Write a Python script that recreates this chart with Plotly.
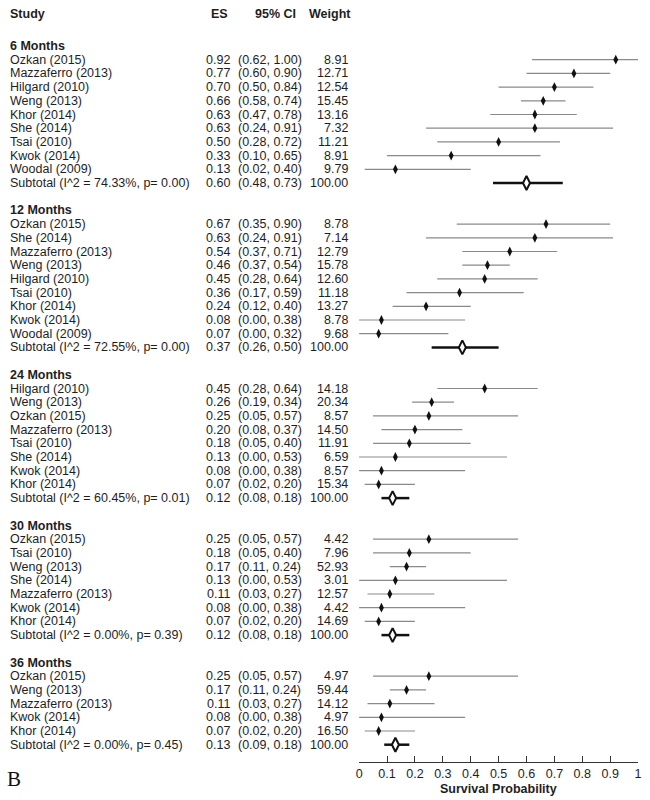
import plotly.graph_objects as go

# ---------------- data ----------------
group_labels = ["6 Months", "12 Months", "24 Months", "30 Months", "36 Months"]

studies_6 = ["Ozkan (2015)", "Mazzaferro (2013)", "Hilgard (2010)", "Weng (2013)", "Khor (2014)",
             "She (2014)", "Tsai (2010)", "Kwok (2014)", "Woodal (2009)"]
es_6 = [0.92, 0.77, 0.70, 0.66, 0.63, 0.63, 0.50, 0.33, 0.13]
lo_6 = [0.62, 0.60, 0.50, 0.58, 0.47, 0.24, 0.28, 0.10, 0.02]
hi_6 = [1.00, 0.90, 0.84, 0.74, 0.78, 0.91, 0.72, 0.65, 0.40]
wt_6 = [8.91, 12.71, 12.54, 15.45, 13.16, 7.32, 11.21, 8.91, 9.79]

studies_12 = ["Ozkan (2015)", "She (2014)", "Mazzaferro (2013)", "Weng (2013)", "Hilgard (2010)",
              "Tsai (2010)", "Khor (2014)", "Kwok (2014)", "Woodal (2009)"]
es_12 = [0.67, 0.63, 0.54, 0.46, 0.45, 0.36, 0.24, 0.08, 0.07]
lo_12 = [0.35, 0.24, 0.37, 0.37, 0.28, 0.17, 0.12, 0.00, 0.00]
hi_12 = [0.90, 0.91, 0.71, 0.54, 0.64, 0.59, 0.40, 0.38, 0.32]
wt_12 = [8.78, 7.14, 12.79, 15.78, 12.60, 11.18, 13.27, 8.78, 9.68]

studies_24 = ["Hilgard (2010)", "Weng (2013)", "Ozkan (2015)", "Mazzaferro (2013)", "Tsai (2010)",
              "She (2014)", "Kwok (2014)", "Khor (2014)"]
es_24 = [0.45, 0.26, 0.25, 0.20, 0.18, 0.13, 0.08, 0.07]
lo_24 = [0.28, 0.19, 0.05, 0.08, 0.05, 0.00, 0.00, 0.02]
hi_24 = [0.64, 0.34, 0.57, 0.37, 0.40, 0.53, 0.38, 0.20]
wt_24 = [14.18, 20.34, 8.57, 14.50, 11.91, 6.59, 8.57, 15.34]

studies_30 = ["Ozkan (2015)", "Tsai (2010)", "Weng (2013)", "She (2014)", "Mazzaferro (2013)",
              "Kwok (2014)", "Khor (2014)"]
es_30 = [0.25, 0.18, 0.17, 0.13, 0.11, 0.08, 0.07]
lo_30 = [0.05, 0.05, 0.11, 0.00, 0.03, 0.00, 0.02]
hi_30 = [0.57, 0.40, 0.24, 0.53, 0.27, 0.38, 0.20]
wt_30 = [4.42, 7.96, 52.93, 3.01, 12.57, 4.42, 14.69]

studies_36 = ["Ozkan (2015)", "Weng (2013)", "Mazzaferro (2013)", "Kwok (2014)", "Khor (2014)"]
es_36 = [0.25, 0.17, 0.11, 0.08, 0.07]
lo_36 = [0.05, 0.11, 0.03, 0.00, 0.02]
hi_36 = [0.57, 0.24, 0.27, 0.38, 0.20]
wt_36 = [4.97, 59.44, 14.12, 4.97, 16.50]

sub_i2 = [74.33, 72.55, 60.45, 0.00, 0.00]
sub_p = [0.00, 0.00, 0.01, 0.39, 0.45]
sub_es = [0.60, 0.37, 0.12, 0.12, 0.13]
sub_lo = [0.48, 0.26, 0.08, 0.08, 0.09]
sub_hi = [0.73, 0.50, 0.18, 0.18, 0.18]

x_ticks = [0, 0.1, 0.2, 0.3, 0.4, 0.5, 0.6, 0.7, 0.8, 0.9, 1]
x_tick_labels = ["0", "0.1", "0.2", "0.3", "0.4", "0.5", "0.6", "0.7", "0.8", "0.9", "1"]
x_title = "Survival Probability"
col_headers = ["Study", "ES", "95% CI", "Weight"]

groups = [
    (studies_6, es_6, lo_6, hi_6, wt_6),
    (studies_12, es_12, lo_12, hi_12, wt_12),
    (studies_24, es_24, lo_24, hi_24, wt_24),
    (studies_30, es_30, lo_30, hi_30, wt_30),
    (studies_36, es_36, lo_36, hi_36, wt_36),
]

# ---------------- layout geometry ----------------
W, H = 650, 800
AX_L, AX_R = 360, 642          # pixel x of 0 and 1
PLOT_BOTTOM = 762              # axis line pixel
ROW0_PX, ROW_H = 46, 13.7      # pixel of row k=0, row height
y_top = -ROW0_PX / ROW_H
y_bot = (PLOT_BOTTOM - ROW0_PX) / ROW_H

def px_x(px):
    return px / W

def row_of_px(py):
    return (py - ROW0_PX) / ROW_H

def paper_y(py):
    return 1 - py / PLOT_BOTTOM

FONT = "Liberation Sans, Arial, Helvetica, sans-serif"
FS = 12.5
TXT = "#1e1e1e"

annotations = []

def add_text(text, px, row, anchor="left", bold=False, size=FS, family=FONT, color=TXT):
    annotations.append(dict(
        text=f"<b>{text}</b>" if bold else text,
        x=px_x(px), xref="paper", y=row, yref="y",
        xanchor=anchor, yanchor="middle", showarrow=False,
        font=dict(family=family, size=size, color=color),
    ))

# column headers
hdr_row = row_of_px(14)
add_text(col_headers[0], 5, hdr_row, "left", bold=True)
add_text(col_headers[1], 219, hdr_row, "center", bold=True)
add_text(col_headers[2], 275, hdr_row, "center", bold=True)
add_text(col_headers[3], 354, hdr_row, "right", bold=True)

line_x, line_y = [], []
pt_x, pt_y = [], []
sub_line_x, sub_line_y = [], []
sub_x, sub_y = [], []

k = 0
for gi, (names, es, lo, hi, wt) in enumerate(groups):
    add_text(group_labels[gi], 5, k, "left", bold=True)
    for i, name in enumerate(names):
        r = k + 1 + i
        add_text(name, 5, r, "left")
        add_text(f"{es[i]:.2f}", 231, r, "right")
        add_text(f"({lo[i]:.2f}, {hi[i]:.2f})", 236, r, "left")
        add_text(f"{wt[i]:.2f}", 351, r, "right")
        line_x += [lo[i], hi[i], None]
        line_y += [r, r, None]
        pt_x.append(es[i])
        pt_y.append(r)
    r = k + 1 + len(names)
    add_text(f"Subtotal (I^2 = {sub_i2[gi]:.2f}%, p= {sub_p[gi]:.2f})", 5, r, "left")
    add_text(f"{sub_es[gi]:.2f}", 231, r, "right")
    add_text(f"({sub_lo[gi]:.2f}, {sub_hi[gi]:.2f})", 236, r, "left")
    add_text(f"{100:.2f}", 351, r, "right")
    sub_line_x += [sub_lo[gi], sub_hi[gi], None]
    sub_line_y += [r, r, None]
    sub_x.append(sub_es[gi])
    sub_y.append(r)
    k = r + 2

# axis title and panel label
annotations.append(dict(
    text=f"<b>{x_title}</b>", x=px_x((AX_L + AX_R) / 2), xref="paper",
    y=paper_y(789), yref="paper", xanchor="center", yanchor="middle",
    showarrow=False, font=dict(family=FONT, size=12.5, color=TXT)))
annotations.append(dict(
    text="B", x=px_x(2), xref="paper", y=paper_y(779), yref="paper",
    xanchor="left", yanchor="middle", showarrow=False,
    font=dict(family="Liberation Serif, Times New Roman, serif", size=21, color="#111")))

fig = go.Figure()
fig.add_trace(go.Scatter(x=line_x, y=line_y, mode="lines",
                         line=dict(color="#8a8a8a", width=1.2), hoverinfo="skip",
                         cliponaxis=False))
fig.add_trace(go.Scatter(x=pt_x, y=pt_y, mode="markers",
                         marker=dict(symbol="diamond-tall", size=7, color="#111111",
                                     line=dict(width=0)), cliponaxis=False))
fig.add_trace(go.Scatter(x=sub_line_x, y=sub_line_y, mode="lines",
                         line=dict(color="#111111", width=2.5), hoverinfo="skip",
                         cliponaxis=False))
fig.add_trace(go.Scatter(x=sub_x, y=sub_y, mode="markers",
                         marker=dict(symbol="diamond-tall", size=10, color="white",
                                     line=dict(color="#111111", width=2)), cliponaxis=False))

fig.update_layout(
    width=W, height=H,
    margin=dict(l=0, r=0, t=0, b=H - PLOT_BOTTOM),
    paper_bgcolor="white", plot_bgcolor="white",
    showlegend=False,
    annotations=annotations,
    xaxis=dict(domain=[AX_L / W, AX_R / W], range=[0, 1],
               tickvals=x_ticks, ticktext=x_tick_labels,
               ticks="inside", ticklen=6, tickwidth=1, tickcolor="#333",
               showline=True, linecolor="#333", linewidth=1,
               showgrid=False, zeroline=False,
               tickfont=dict(family=FONT, size=12.5, color=TXT)),
    yaxis=dict(range=[y_bot, y_top], visible=False, showgrid=False, zeroline=False),
)

fig.write_html("out.html", config={"displayModeBar": False},
               post_script="document.body.style.margin='0';document.body.style.overflow='hidden';")
